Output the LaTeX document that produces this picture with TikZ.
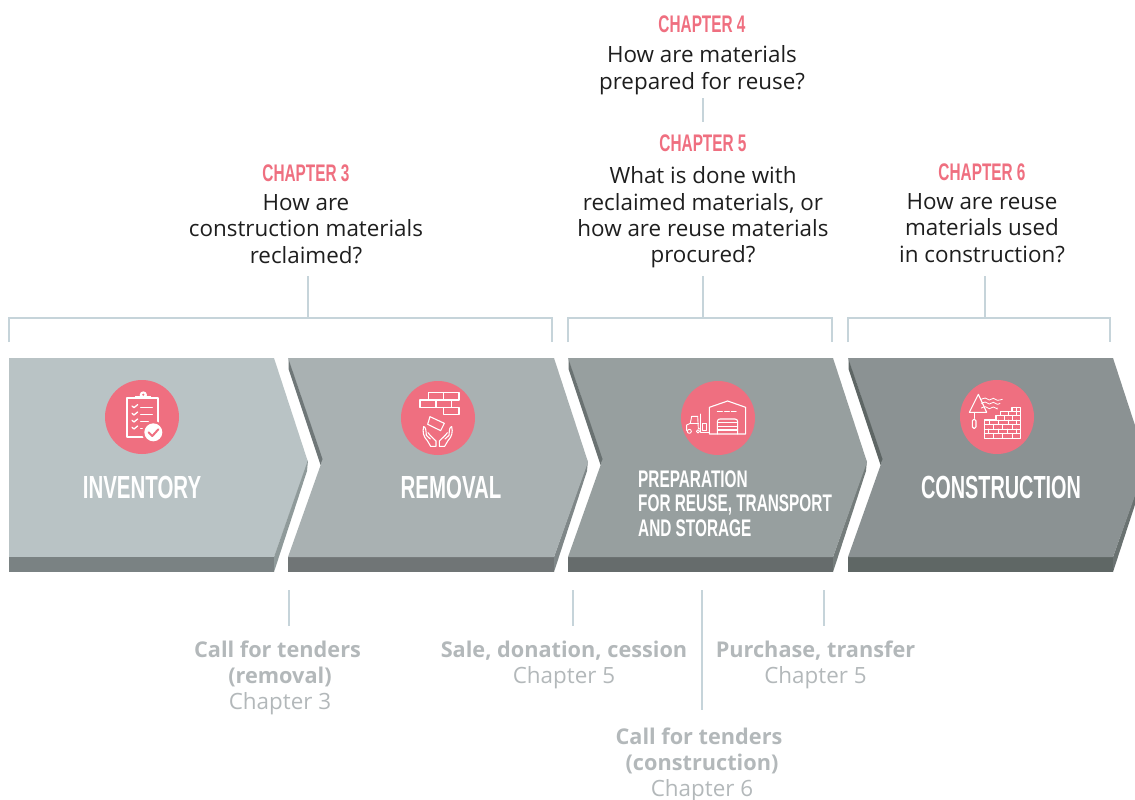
\documentclass[tikz,border=0pt]{standalone}
\usepackage{fontspec}
\setmainfont{Open Sans}
\newfontfamily\bebasf[FakeStretch=0.64]{Liberation Sans}
\newcommand{\bebas}{\bebasf\bfseries}
\definecolor{pinkc}{HTML}{EF6F80}
\definecolor{linec}{HTML}{C6D4DA}
\definecolor{grayt}{HTML}{B3B8BA}
\definecolor{inkc}{HTML}{1E1E1E}
\definecolor{fa}{HTML}{B9C3C5}\definecolor{ba}{HTML}{7A8283}\definecolor{sa}{HTML}{8F9A9A}
\definecolor{fb}{HTML}{A9B1B2}\definecolor{bb}{HTML}{707576}\definecolor{sb}{HTML}{7F8788}\definecolor{nb}{HTML}{6F7778}
\definecolor{fc}{HTML}{979F9F}\definecolor{bc}{HTML}{666C6C}\definecolor{sc}{HTML}{747C7B}\definecolor{nc}{HTML}{6A7272}
\definecolor{fd}{HTML}{8B9293}\definecolor{bd}{HTML}{5F6765}\definecolor{sd}{HTML}{6A7271}\definecolor{nd}{HTML}{5E6665}
\newcommand{\tb}[1]{{\fontsize{21.7}{26}\selectfont\textbf{#1}}}
\tikzset{
  chap/.style={font=\bebas\fontsize{24}{26}\selectfont,text=pinkc,inner sep=0pt,anchor=center},
  quest/.style={font=\fontsize{22.4}{26.3}\selectfont,text=inkc,align=center,inner sep=0pt,anchor=north},
  tend/.style={font=\fontsize{22.4}{26}\selectfont,text=grayt,align=center,inner sep=0pt,anchor=north},
  stagelbl/.style={font=\bebas\fontsize{32}{34}\selectfont,text=white,inner sep=0pt,anchor=center},
  rule/.style={draw=linec,line width=2.4pt},
  ico/.style={draw=white,line width=1.1pt,line join=round,line cap=round},
  disc/.style={fill=pinkc,circle,minimum size=74pt,inner sep=0pt}
}
% #1 left x, #2 right x, #3 face, #4 bottom shade, #5 side shade
\newcommand{\chevface}[5]{%
  \fill[#5] (#2,557) -- (#2+34,460) -- (#2+33,471) -- (#2,572) -- cycle;
  \fill[#4] (#1,557) rectangle (#2,572);
  \fill[#3] (#1,358) -- (#2,358) -- (#2+34,462) -- (#2,557) -- (#1,557) -- (#1+33,464) -- (#1+34,459) -- cycle;
}
\newcommand{\chevnotch}[2]{%
  \fill[#2] (#1+.5,359) -- (#1+34.5,459) -- (#1+32.5,465) -- (#1+.5,369) -- cycle;
}
\begin{document}
\begin{tikzpicture}[x=1pt,y=-1pt]
\useasboundingbox (0,0) rectangle (1135,800);
\begin{scope}
\clip (0,0) rectangle (1135,800);
\fill[fa] (9,358) -- (274,358) -- (308,462) -- (274,557) -- (9,557) -- cycle;
\fill[sa] (274,557) -- (308,460) -- (307,471) -- (274,572) -- cycle;
\fill[ba] (9,557) rectangle (274,572);
\chevface{288}{554}{fb}{bb}{sb}
\chevface{568}{833}{fc}{bc}{sc}
\chevface{848}{1113}{fd}{bd}{sd}
\chevnotch{288}{nb}
\chevnotch{568}{nc}
\chevnotch{848}{nd}
\end{scope}
% brackets
\coordinate (b1l) at (9,342); \coordinate (b1tl) at (9,318); \coordinate (b1tr) at (552,318); \coordinate (b1r) at (552,342);
\coordinate (b2l) at (568,342); \coordinate (b2tl) at (568,318); \coordinate (b2tr) at (832,318); \coordinate (b2r) at (832,342);
\coordinate (b3l) at (848,342); \coordinate (b3tl) at (848,318); \coordinate (b3tr) at (1110,318); \coordinate (b3r) at (1110,342);
\draw[rule] (b1l) -- (b1tl) -- (b1tr) -- (b1r);
\draw[rule] (b2l) -- (b2tl) -- (b2tr) -- (b2r);
\draw[rule] (b3l) -- (b3tl) -- (b3tr) -- (b3r);
\coordinate (s1a) at (308,276); \coordinate (s1b) at (308,318);
\coordinate (s2a) at (703,276); \coordinate (s2b) at (703,318);
\coordinate (s3a) at (985,276); \coordinate (s3b) at (985,318);
\coordinate (s4a) at (703,98); \coordinate (s4b) at (703,122);
\draw[rule] (s1a) -- (s1b);
\draw[rule] (s2a) -- (s2b);
\draw[rule] (s3a) -- (s3b);
\draw[rule] (s4a) -- (s4b);
\coordinate (t1a) at (289,590); \coordinate (t1b) at (289,626);
\coordinate (t2a) at (573,590); \coordinate (t2b) at (573,626);
\coordinate (t3a) at (702,590); \coordinate (t3b) at (702,710);
\coordinate (t4a) at (824,590); \coordinate (t4b) at (824,626);
\draw[rule] (t1a) -- (t1b);
\draw[rule] (t2a) -- (t2b);
\draw[rule] (t3a) -- (t3b);
\draw[rule] (t4a) -- (t4b);
% discs
\node[disc] (d1) at (142,417) {};
\node[disc] (d2) at (438,418) {};
\node[disc] (d3) at (718,418) {};
\node[disc] (d4) at (997,417) {};
% icon 1 clipboard
\begin{scope}[shift={(90,375)},x=.3333pt,y=-.3333pt]
\draw[ico,line width=1.7pt] (135,70) -- (110,70) -- (110,185) -- (165,185);
\draw[ico,line width=1.7pt] (182,70) -- (205,70) -- (205,145);
\fill[white] (135,64) rectangle (182,73);
\fill[white] (160,60) circle (11);
\fill[pinkc] (160,59) circle (3.5);
\foreach \yy in {93,115,136,157}{
  \draw[ico,line width=1.3pt] (126,\yy) -- (132,\yy+5) -- (143,\yy-4);
}
\draw[ico,line width=1.3pt] (152,97) -- (187,97);
\draw[ico,line width=1.3pt] (152,118) -- (187,118);
\draw[ico,line width=1.3pt] (152,139) -- (175,139);
\draw[ico,line width=1.3pt] (152,160) -- (158,160);
\fill[pinkc] (190,172) circle (34);
\fill[white] (190,172) circle (27);
\draw[pinkc,line width=2pt,line cap=round,line join=round] (176,172) -- (187,183) -- (205,163);
\end{scope}
% icon 2 bricks and hands
\begin{scope}[shift={(380,370)},x=.3333pt,y=-.3333pt]
\draw[ico] (145,67) rectangle (190,90);
\draw[ico] (190,67) rectangle (237,90);
\draw[ico] (120,90) rectangle (168,112);
\draw[ico] (168,90) rectangle (215,112);
\draw[ico] (190,112) rectangle (237,133);
\draw[ico] (150,140) -- (193,160) -- (182,182) -- (143,163) -- cycle;
\draw[ico] (131,170) .. controls (127,185) and (130,200) .. (142,212) -- (152,229) -- (168,229) -- (168,213) .. controls (160,205) and (148,195) .. (144,188);
\draw[ico] (131,170) .. controls (137,170) and (138,180) .. (139,196) -- (151,207);
\draw[ico] (215,170) .. controls (219,185) and (216,200) .. (204,212) -- (194,229) -- (178,229) -- (178,213) .. controls (186,205) and (198,195) .. (202,188);
\draw[ico] (215,170) .. controls (209,170) and (208,180) .. (207,196) -- (195,207);
\end{scope}
% icon 3 warehouse and forklift
\begin{scope}[shift={(660,370)},x=.3333pt,y=-.3333pt]
\draw[ico] (148,192) -- (148,112) -- (203,93) -- (257,112) -- (257,192) -- cycle;
\draw[ico] (172,125) -- (187,125) (194,125) -- (208,125) (214,125) -- (228,125);
\draw[ico] (172,192) -- (172,155) .. controls (172,149) and (176,147) .. (180,147) -- (225,147) .. controls (230,147) and (233,150) .. (233,155) -- (233,192);
\foreach \yy in {158,169,180}{\draw[ico] (172,\yy) -- (233,\yy);}
\draw[ico,line width=.9pt] (80,182) -- (80,165) -- (91,160) -- (95,139) -- (113,139) -- (115,175) -- (122,178);
\draw[ico,line width=.9pt] (91,160) -- (115,160);
\draw[ico,line width=.9pt] (122,132) -- (122,187) -- (146,187);
\draw[ico,line width=.9pt] (127,160) rectangle (140,180);
\draw[ico,line width=.9pt] (88,184) circle (6);
\draw[ico,line width=.9pt] (114,184) circle (5);
\end{scope}
% icon 4 trowel and wall
\begin{scope}[shift={(940,370)},x=.3333pt,y=-.3333pt]
\draw[ico] (88,127) -- (115,73) -- (140,127) -- cycle;
\draw[ico] (103,127) -- (103,145);
\draw[ico,rounded corners=1.5pt] (97,148) rectangle (108,175);
\foreach \dy in {0,12,26}{
\draw[ico,line width=.8pt] plot[smooth] coordinates {(124,88+\dy) (136,84+\dy) (148,90+\dy) (160,85+\dy) (172,91+\dy) (187-\dy*.6,88+\dy)};
}
\draw[ico] (133,205) -- (133,150) -- (168,150) -- (168,137) -- (182,137) -- (182,125) -- (216,125) -- (216,112) -- (241,112) -- (241,205) -- cycle;
\draw[ico,line width=.9pt] (133,163) -- (241,163) (133,177) -- (241,177) (133,191) -- (241,191) (168,150) -- (241,150) (182,137) -- (241,137) (216,125) -- (241,125);
\draw[ico,line width=.9pt]
  (228,112) -- (228,125)
  (204,125) -- (204,137) (228,125) -- (228,137)
  (194,137) -- (194,150) (218,137) -- (218,150)
  (148,150) -- (148,163) (176,150) -- (176,163) (204,150) -- (204,163) (228,150) -- (228,163)
  (160,163) -- (160,177) (188,163) -- (188,177) (216,163) -- (216,177)
  (146,177) -- (146,191) (174,177) -- (174,191) (202,177) -- (202,191) (230,177) -- (230,191)
  (160,191) -- (160,205) (188,191) -- (188,205) (216,191) -- (216,205);
\end{scope}
% stage labels
\node[stagelbl] (l1) at (142,487) {INVENTORY};
\node[stagelbl] (l2) at (451,487) {REMOVAL};
\node[stagelbl] (l4) at (1001,487) {\scalebox{.97}[1]{CONSTRUCTION}};
\node[inner sep=0pt,anchor=base west,font=\bebas\fontsize{24}{24.5}\selectfont,text=white,align=left] (l3) at (638,536) {PREPARATION\\FOR REUSE, TRANSPORT\\AND STORAGE};
% chapters
\node[chap] (c3) at (306,173) {CHAPTER 3};
\node[quest] (q3) at (306,194.5) {How are\\construction materials\\reclaimed?};
\node[chap] (c4) at (702,24) {CHAPTER 4};
\node[quest] (q4) at (702,45.5) {How are materials\\prepared for reuse?};
\node[chap] (c5) at (703,143) {CHAPTER 5};
\node[quest] (q5) at (703,166.5) {What is done with\\reclaimed materials, or\\how are reuse materials\\procured?};
\node[chap] (c6) at (982,172) {CHAPTER 6};
\node[quest] (q6) at (982,193.5) {How are reuse\\materials used\\in construction?};
% tenders
\node[tend] (e1) at (280,640.5) {\tb{Call for tenders}\hspace*{5pt}\\\tb{(removal)}\\Chapter 3};
\node[tend] (e2) at (564,640.5) {\tb{Sale, donation, cession}\\Chapter 5};
\node[tend] (e3) at (815.5,640.5) {\tb{Purchase, transfer}\\Chapter 5};
\node[tend] (e4) at (702,727.5) {\tb{Call for tenders}\hspace*{6pt}\\\tb{(construction)}\\Chapter 6};
\end{tikzpicture}
\end{document}
